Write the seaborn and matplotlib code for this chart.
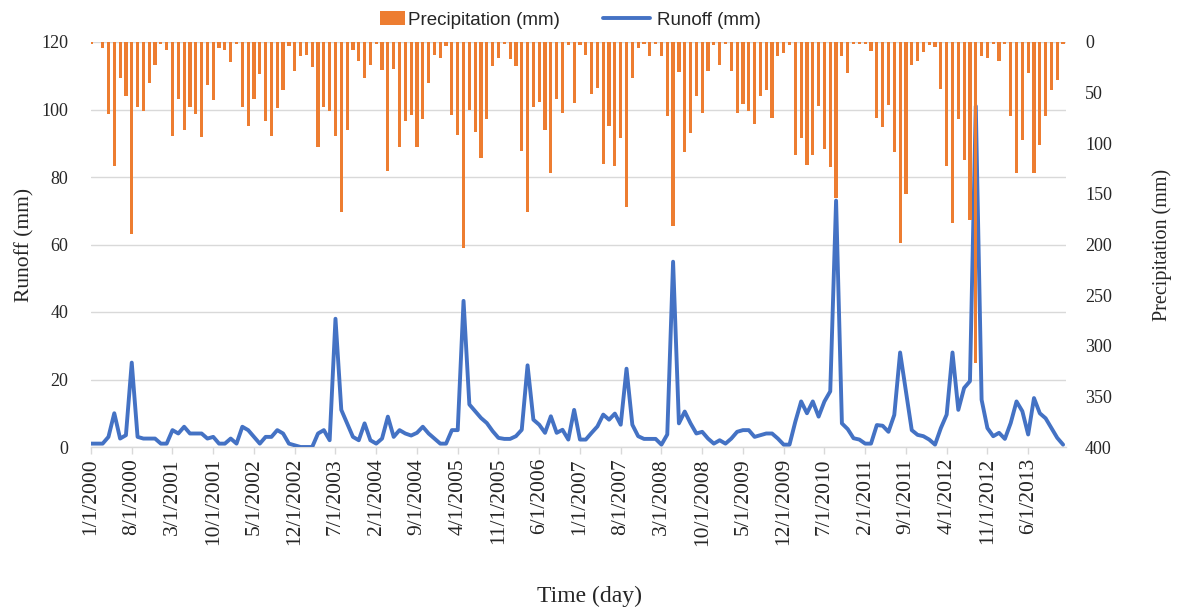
import numpy as np
import pandas as pd
import matplotlib
matplotlib.use("Agg")
import matplotlib.pyplot as plt
import seaborn as sns
from matplotlib.patches import Patch
from matplotlib.lines import Line2D

months = pd.date_range("2000-01-01", "2013-12-01", freq="MS")

precipitation = [
    2, 0, 6, 71, 122, 36, 53, 190, 64, 68, 40, 23, 2, 8, 93, 56, 87, 64, 71, 94, 42, 57, 6, 8, 20, 2, 64, 83,
    56, 32, 78, 93, 65, 47, 4, 29, 14, 13, 25, 104, 64, 68, 93, 168, 87, 8, 19, 36, 23, 2, 28, 127, 27, 104, 78, 72,
    104, 76, 40, 13, 16, 4, 72, 92, 203, 67, 89, 115, 76, 24, 16, 2, 17, 24, 108, 168, 64, 59, 87, 129, 56, 70, 3, 60,
    3, 13, 51, 45, 120, 83, 122, 95, 163, 36, 6, 2, 14, 2, 14, 73, 182, 30, 109, 90, 53, 70, 29, 3, 23, 2, 29, 70,
    61, 68, 81, 53, 47, 75, 14, 11, 3, 112, 95, 121, 112, 63, 106, 123, 154, 14, 31, 2, 2, 2, 9, 75, 84, 62, 109, 199,
    150, 23, 19, 10, 3, 5, 46, 122, 179, 76, 117, 176, 317, 14, 16, 2, 19, 2, 73, 129, 97, 31, 129, 102, 73, 47, 38, 2,
]

runoff = [
    1, 1, 1, 3, 10, 2.5, 3.5, 25, 3, 2.5, 2.5, 2.5, 1, 1, 5, 4, 6, 4, 4, 4, 2.5, 3, 1, 1, 2.5, 1, 6, 5,
    3, 1, 3, 3, 5, 4, 1, 0.5, 0, 0, 0, 4, 5, 2, 38, 11, 7, 3, 2, 7, 2, 1, 2.5, 9, 3, 5, 4, 3.4,
    4.2, 6, 4, 2.5, 1, 1, 5, 5, 43.3, 12.6, 10.6, 8.6, 7.1, 4.7, 2.7, 2.4, 2.4, 3.2, 5.1, 24.2, 8.1, 6.6, 4.2, 9.1, 4.2, 5.1, 2.2, 11,
    2.2, 2.2, 4.2, 6.1, 9.6, 8.1, 9.9, 6.6, 23.2, 6.6, 3.2, 2.4, 2.4, 2.4, 0.7, 3.7, 54.9, 7, 10.5, 7, 4, 4.5, 2.5, 1, 2, 1, 2.5, 4.5,
    5, 5, 3, 3.5, 4, 4, 2.5, 0.7, 0.7, 7.5, 13.5, 10, 13.5, 9, 13.5, 16.5, 73, 7, 5.3, 2.6, 2.2, 1, 1, 6.5, 6.3, 4.5, 9.5, 28,
    16.5, 5, 3.6, 3.2, 2.2, 0.7, 5.6, 9.6, 28, 11, 17.5, 19.5, 101, 14, 5.6, 3.2, 4.2, 2.4, 7.1, 13.5, 10.6, 3.7, 14.5, 10, 8.5, 5.6, 2.7, 0.7,
]

tick_labels = ["1/1/2000", "8/1/2000", "3/1/2001", "10/1/2001", "5/1/2002", "12/1/2002",
               "7/1/2003", "2/1/2004", "9/1/2004", "4/1/2005", "11/1/2005", "6/1/2006",
               "1/1/2007", "8/1/2007", "3/1/2008", "10/1/2008", "5/1/2009", "12/1/2009",
               "7/1/2010", "2/1/2011", "9/1/2011", "4/1/2012", "11/1/2012", "6/1/2013"]

df = pd.DataFrame({"idx": np.arange(len(months)), "date": months,
                   "precip": precipitation, "runoff": runoff})

sns.set_theme(style="white")
plt.rcParams["font.family"] = ["Liberation Serif", "DejaVu Serif"]

BLUE = "#4472C4"
ORANGE = "#ED7D31"

W, H = 1183, 608
fig = plt.figure(figsize=(W / 100, H / 100), dpi=100)
L, R, T, B = 91, 1066, 42, 447
ax = fig.add_axes([L / W, 1 - B / H, (R - L) / W, (B - T) / H])

sns.lineplot(data=df, x="idx", y="runoff", ax=ax, color=BLUE, linewidth=2.8, zorder=3)
ax.set_ylim(0, 120)
ax.set_xlim(0, 167.5)
ax.set_yticks(range(0, 121, 20))
ax.yaxis.grid(True, color="#d9d9d9", linewidth=1.0)
ax.xaxis.grid(False)
for s in ["top", "right", "left"]:
    ax.spines[s].set_visible(False)
ax.spines["bottom"].set_color("#d9d9d9")
ax.spines["bottom"].set_linewidth(1.0)
ax.set_xticks(np.arange(0, len(months), 7))
ax.set_xticklabels(tick_labels, rotation=90, fontsize=15.5)
ax.tick_params(axis="x", length=5, color="#d9d9d9", width=1, pad=3, direction="out", bottom=True)
ax.tick_params(axis="y", length=0, labelsize=13, pad=16.5)
ax.set_ylabel("Runoff (mm)", fontsize=15.5)
ax.yaxis.set_label_coords(-0.058, 0.5)
ax.set_xlabel("Time (day)", fontsize=17)
ax.xaxis.set_label_coords(0.511, -0.343)

ax2 = ax.twinx()
sns.barplot(data=df, x="idx", y="precip", ax=ax2, native_scale=True, color=ORANGE,
            width=0.55, saturation=1, linewidth=0, zorder=4)
ax2.set_ylim(400, 0)
ax2.set_xlim(0, 167.5)
ax2.set_yticks(range(0, 401, 50))
for s in ["top", "right", "left", "bottom"]:
    ax2.spines[s].set_visible(False)
ax2.tick_params(axis="y", length=0, labelsize=13, pad=13.7)
ax2.set_ylabel("Precipitation (mm)", fontsize=14.5)
ax2.yaxis.set_label_coords(1.088, 0.5)
ax2.grid(False)
ax2.set_xlabel("")

fs = 13.5
em = fs * 100 / 72
leg_font = {"family": ["Liberation Sans"], "size": fs}
leg1 = fig.legend([Patch(facecolor=ORANGE, edgecolor="none")], ["Precipitation (mm)"],
                  loc="center left", bbox_to_anchor=(380 / W, 1 - 20 / H), frameon=False,
                  prop=leg_font, borderpad=0, borderaxespad=0,
                  handlelength=25 / em, handletextpad=3 / em)
leg2 = fig.legend([Line2D([0], [0], color=BLUE, linewidth=2.8)], ["Runoff (mm)"],
                  loc="center left", bbox_to_anchor=(603 / W, 1 - 20 / H), frameon=False,
                  prop=leg_font, borderpad=0, borderaxespad=0,
                  handlelength=47 / em, handletextpad=7 / em)

fig.savefig("out.png", dpi=100)
